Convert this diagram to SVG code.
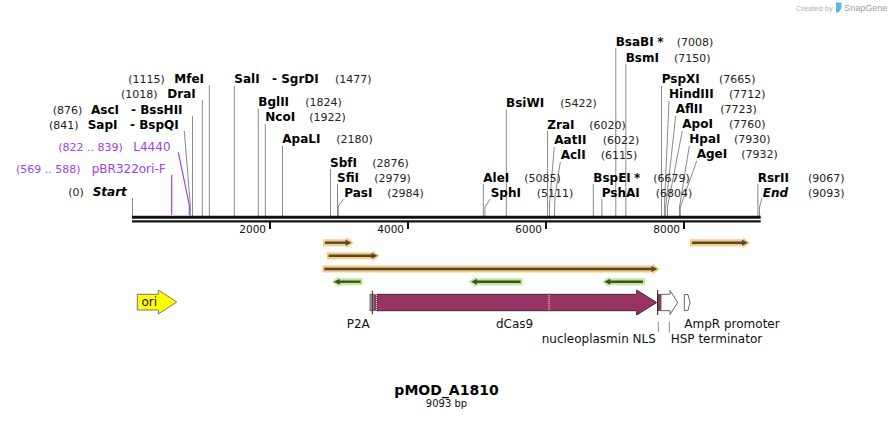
<svg xmlns="http://www.w3.org/2000/svg" width="893" height="421" viewBox="0 0 893 421">
<style>
text{font-family:"DejaVu Sans","Noto Sans",sans-serif}
.n{font-size:12px;font-weight:bold;fill:#000}
.i{font-style:italic}
.c{font-size:11px;fill:#222}
.p{font-size:12px;fill:#a040f0}
.pc{font-size:11px;fill:#a040f0}
.f{font-size:12px;fill:#111}
.t{font-size:10.5px;fill:#111}
.ln{stroke:#8a8a8a;stroke-width:1;fill:none}
.lp{stroke:#a040f0;stroke-width:1.2;fill:none}
.og{fill:#fbc97a}
.gg{fill:#b8f08c}
.pi{stroke:#4a4a3c;stroke-width:2.4}
.ph{fill:#4a4a3c}
</style>
<rect width="893" height="421" fill="#fff"/>
<g id="watermark">
<text x="796" y="10.5" style="font-family:'Liberation Sans',sans-serif;font-size:7.5px;fill:#b4b4b4">Created by</text>
<path d="M836,2.5 h5.5 v4 c0,3 -2,4.5 -3,6 h-2.5 z" fill="#5ab4e6"/>
<text x="844.3" y="10.5" style="font-family:'Liberation Sans',sans-serif;font-size:9px;fill:#a0a0a0">SnapGene</text>
</g>
<g id="connectors">
<line class="ln" x1="132.5" y1="198" x2="132.5" y2="216"/>
<line class="lp" x1="171.7" y1="175" x2="171.7" y2="215"/>
<polyline class="lp" points="178.3,152.3 189.3,205 189.3,215"/>
<polyline class="ln" points="184.3,131 190.3,205 190.3,216"/>
<line class="ln" x1="192.5" y1="116" x2="192.5" y2="216"/>
<line class="ln" x1="202.3" y1="100" x2="202.3" y2="216"/>
<line class="ln" x1="209.3" y1="85" x2="209.3" y2="216"/>
<line class="ln" x1="234.3" y1="86" x2="234.3" y2="216"/>
<line class="ln" x1="258.3" y1="109" x2="258.3" y2="216"/>
<line class="ln" x1="265.3" y1="124" x2="265.3" y2="216"/>
<line class="ln" x1="282.5" y1="146" x2="282.5" y2="216"/>
<line class="ln" x1="330.5" y1="169" x2="330.5" y2="216"/>
<line class="ln" x1="337.5" y1="184" x2="337.5" y2="216"/>
<polyline class="ln" points="343.5,199 338.3,206 338.3,216"/>
<line class="ln" x1="483.3" y1="184" x2="483.3" y2="216"/>
<polyline class="ln" points="490,199 485,207 485,216"/>
<line class="ln" x1="506.3" y1="110" x2="506.3" y2="216"/>
<line class="ln" x1="547.5" y1="131" x2="547.5" y2="216"/>
<polyline class="ln" points="554.3,147 549.5,204 549.5,216"/>
<polyline class="ln" points="560.3,162 555,196 554.5,216"/>
<line class="ln" x1="593.3" y1="184" x2="593.3" y2="216"/>
<line class="ln" x1="601.9" y1="199" x2="601.9" y2="216"/>
<line class="ln" x1="615.8" y1="48" x2="615.8" y2="216"/>
<line class="ln" x1="625.8" y1="64" x2="625.8" y2="216"/>
<line class="ln" x1="661.5" y1="86" x2="661.5" y2="216"/>
<polyline class="ln" points="669,101 664.4,207 664.4,216"/>
<polyline class="ln" points="675.7,116 665.7,207 665.7,216"/>
<polyline class="ln" points="682.3,131 667.5,207 667.5,216"/>
<polyline class="ln" points="689.3,146 679.5,207 679.5,216"/>
<polyline class="ln" points="696.7,161 680.3,207 680.3,216"/>
<line class="ln" x1="757.9" y1="184" x2="757.9" y2="216"/>
<polyline class="ln" points="762,198 759.5,207 759.5,216"/>
<line class="ln" x1="658.3" y1="321.7" x2="658.3" y2="332.3"/>
<line class="ln" x1="669.3" y1="321.7" x2="669.3" y2="332.3"/>
</g>
<g id="backbone">
<line x1="132" y1="217.2" x2="760.7" y2="217.2" stroke="#111" stroke-width="3"/>
<line x1="132" y1="221.4" x2="760.7" y2="221.4" stroke="#111" stroke-width="2.2"/>
<g stroke="#111" stroke-width="2">
<line x1="270" y1="222" x2="270" y2="229"/>
<line x1="408" y1="222" x2="408" y2="229"/>
<line x1="546" y1="222" x2="546" y2="229"/>
<line x1="684" y1="222" x2="684" y2="229"/>
</g>
<g class="t" text-anchor="end">
<text x="266" y="233.3">2000</text>
<text x="404" y="233.3">4000</text>
<text x="542" y="233.3">6000</text>
<text x="680" y="233.3">8000</text>
</g>
</g>
<g id="site-start"><text class="c" x="68.3" y="195.7">(0)</text><text class="n i" x="92.7" y="195.7">Start</text></g>
<g id="primer-pBR322ori-F-label"><text class="pc" x="16" y="172.7">(569 .. 588)</text><text class="p" x="91.7" y="172.7">pBR322ori-F</text></g>
<g id="primer-L4440-label"><text class="pc" x="58.3" y="151">(822 .. 839)</text><text class="p" x="133.3" y="151">L4440</text></g>
<g id="site-SapI"><text class="c" x="49" y="128.7">(841)</text><text class="n" x="87.7" y="128.7">SapI</text><text class="n" x="130" y="128.7">- BspQI</text></g>
<g id="site-AscI"><text class="c" x="52.7" y="113.7">(876)</text><text class="n" x="91" y="113.7">AscI</text><text class="n" x="131" y="113.7">- BssHII</text></g>
<g id="site-DraI"><text class="c" x="121" y="98.3">(1018)</text><text class="n" x="167.3" y="98.3">DraI</text></g>
<g id="site-MfeI"><text class="c" x="128.3" y="83.3">(1115)</text><text class="n" x="174.3" y="83.3">MfeI</text></g>
<g id="site-SalI"><text class="n" x="234.3" y="83.3">SalI</text><text class="n" x="272" y="83.3">- SgrDI</text><text class="c" x="335" y="83.3">(1477)</text></g>
<g id="site-BglII"><text class="n" x="258.3" y="106">BglII</text><text class="c" x="305.3" y="106">(1824)</text></g>
<g id="site-NcoI"><text class="n" x="265.3" y="121">NcoI</text><text class="c" x="309.3" y="121">(1922)</text></g>
<g id="site-ApaLI"><text class="n" x="282.3" y="143.3">ApaLI</text><text class="c" x="336.3" y="143.3">(2180)</text></g>
<g id="site-SbfI"><text class="n" x="330" y="166.7">SbfI</text><text class="c" x="372.3" y="166.7">(2876)</text></g>
<g id="site-SfiI"><text class="n" x="337" y="181.7">SfiI</text><text class="c" x="374.3" y="181.7">(2979)</text></g>
<g id="site-PasI"><text class="n" x="344.3" y="196.7">PasI</text><text class="c" x="387.3" y="196.7">(2984)</text></g>
<g id="site-AleI"><text class="n" x="483.3" y="181.7">AleI</text><text class="c" x="524.3" y="181.7">(5085)</text></g>
<g id="site-SphI"><text class="n" x="490.7" y="196.7">SphI</text><text class="c" x="536.7" y="196.7">(5111)</text></g>
<g id="site-BsiWI"><text class="n" x="506" y="106.7">BsiWI</text><text class="c" x="560.3" y="106.7">(5422)</text></g>
<g id="site-ZraI"><text class="n" x="547.3" y="129">ZraI</text><text class="c" x="589.3" y="129">(6020)</text></g>
<g id="site-AatII"><text class="n" x="554.3" y="144">AatII</text><text class="c" x="602.7" y="144">(6022)</text></g>
<g id="site-AclI"><text class="n" x="560.7" y="159">AclI</text><text class="c" x="600.7" y="159">(6115)</text></g>
<g id="site-BspEI"><text class="n" x="593.3" y="181.7">BspEI</text><text class="n" x="634" y="181.7">*</text><text class="c" x="653.3" y="181.7">(6679)</text></g>
<g id="site-PshAI"><text class="n" x="601.7" y="196.7">PshAI</text><text class="c" x="655.7" y="196.7">(6804)</text></g>
<g id="site-BsaBI"><text class="n" x="615.7" y="45.7">BsaBI</text><text class="n" x="657.3" y="45.7">*</text><text class="c" x="676.7" y="45.7">(7008)</text></g>
<g id="site-BsmI"><text class="n" x="625.7" y="61.7">BsmI</text><text class="c" x="674" y="61.7">(7150)</text></g>
<g id="site-PspXI"><text class="n" x="661.7" y="83.3">PspXI</text><text class="c" x="719" y="83.3">(7665)</text></g>
<g id="site-HindIII"><text class="n" x="669" y="98.3">HindIII</text><text class="c" x="729" y="98.3">(7712)</text></g>
<g id="site-AflII"><text class="n" x="675.7" y="113.3">AflII</text><text class="c" x="720.3" y="113.3">(7723)</text></g>
<g id="site-ApoI"><text class="n" x="682.3" y="128.3">ApoI</text><text class="c" x="729" y="128.3">(7760)</text></g>
<g id="site-HpaI"><text class="n" x="689.3" y="143.3">HpaI</text><text class="c" x="734" y="143.3">(7930)</text></g>
<g id="site-AgeI"><text class="n" x="696.7" y="158.3">AgeI</text><text class="c" x="741.3" y="158.3">(7932)</text></g>
<g id="site-RsrII"><text class="n" x="757.7" y="181.7">RsrII</text><text class="c" x="808" y="181.7">(9067)</text></g>
<g id="site-end"><text class="n i" x="762.7" y="196.7">End</text><text class="c" x="808" y="196.7">(9093)</text></g>
<g id="primer-1">
<polygon class="og" points="323,239.2 346.5,239.2 346.5,237.2 353.5,242.7 346.5,248.2 346.5,246.2 323,246.2"/>
<line class="pi" x1="325" y1="242.7" x2="347.5" y2="242.7"/><polygon class="ph" points="345.5,239.7 351.5,242.7 345.5,245.7"/>
</g>
<g id="primer-2">
<polygon class="og" points="326.7,252.2 372.5,252.2 372.5,250.2 379.5,255.7 372.5,261.2 372.5,259.2 326.7,259.2"/>
<line class="pi" x1="328.7" y1="255.7" x2="373.5" y2="255.7"/><polygon class="ph" points="371.5,252.7 377.5,255.7 371.5,258.7"/>
</g>
<g id="primer-3">
<polygon class="og" points="322.3,265.5 652.5,265.5 652.5,263.5 659.5,269 652.5,274.5 652.5,272.5 322.3,272.5"/>
<line class="pi" x1="324.3" y1="269" x2="653.5" y2="269"/><polygon class="ph" points="651.5,266 657.5,269 651.5,272"/>
</g>
<g id="primer-4">
<polygon class="og" points="690,239.2 743,239.2 743,237.2 750,242.7 743,248.2 743,246.2 690,246.2"/>
<line class="pi" x1="692" y1="242.7" x2="744" y2="242.7"/><polygon class="ph" points="742,239.7 748,242.7 742,245.7"/>
</g>
<g id="primer-5">
<polygon class="gg" points="362.7,278.2 338.7,278.2 338.7,276.2 331.7,281.7 338.7,287.2 338.7,285.2 362.7,285.2"/>
<line class="pi" x1="337.7" y1="281.7" x2="360.7" y2="281.7"/><polygon class="ph" points="339.7,278.7 333.7,281.7 339.7,284.7"/>
</g>
<g id="primer-6">
<polygon class="gg" points="522.7,278.2 476,278.2 476,276.2 469,281.7 476,287.2 476,285.2 522.7,285.2"/>
<line class="pi" x1="475" y1="281.7" x2="520.7" y2="281.7"/><polygon class="ph" points="477,278.7 471,281.7 477,284.7"/>
</g>
<g id="primer-7">
<polygon class="gg" points="645,278.2 609.3,278.2 609.3,276.2 602.3,281.7 609.3,287.2 609.3,285.2 645,285.2"/>
<line class="pi" x1="608.3" y1="281.7" x2="643" y2="281.7"/><polygon class="ph" points="610.3,278.7 604.3,281.7 610.3,284.7"/>
</g>
<g id="feature-ori">
<polygon points="137.3,294.3 158.3,294.3 158.3,290 176.7,302 158.3,314 158.3,310 137.3,310" fill="#ffff00" stroke="#777" stroke-width="1"/>
<text class="f" x="141.5" y="305.8">ori</text>
</g>
<g id="feature-P2A">
<rect x="370" y="294.3" width="4" height="16.4" fill="#a8a8a8" stroke="#555" stroke-width="0.8"/>
<line x1="372.3" y1="290.7" x2="372.3" y2="314.3" stroke="#222" stroke-width="1"/>
<text class="f" x="346.7" y="327.5">P2A</text>
</g>
<g id="feature-dCas9">
<rect x="374" y="294.3" width="3" height="16.4" fill="#993366"/>
<polygon points="376.7,294.3 636.7,294.3 636.7,290 656.7,302.5 636.7,315 636.7,310.7 376.7,310.7" fill="#993366" stroke="#333" stroke-width="1"/>
<line x1="376.5" y1="294.8" x2="376.5" y2="310.2" stroke="#fff" stroke-width="1" stroke-dasharray="1,1"/>
<line x1="549" y1="294.8" x2="549" y2="310.2" stroke="#fff" stroke-width="1" stroke-dasharray="1,1"/>
<text class="f" x="496" y="327.5">dCas9</text>
</g>
<g id="feature-NLS">
<rect x="657.5" y="294.3" width="3.2" height="16.4" fill="#993366" stroke="#333" stroke-width="0.6"/>
<line x1="657.7" y1="290" x2="657.7" y2="315" stroke="#222" stroke-width="1"/>
<text class="f" x="541.7" y="343.3">nucleoplasmin NLS</text>
</g>
<g id="feature-HSP-terminator">
<polygon points="661,294.3 670,294.3 670,290.5 677.7,302.5 670,314.5 670,310.7 661,310.7" fill="#fff" stroke="#666" stroke-width="1"/>
<text class="f" x="670.7" y="343.3">HSP terminator</text>
</g>
<g id="feature-AmpR-promoter">
<polygon points="684.3,294.5 688,294.5 690,302.5 688,310.5 684.3,310.5" fill="#fff" stroke="#666" stroke-width="1"/>
<text class="f" x="684.3" y="327.5">AmpR promoter</text>
</g>
<g id="title">
<text x="446.5" y="394.5" text-anchor="middle" style="font-size:14px;font-weight:bold;fill:#000">pMOD_A1810</text>
<text x="446.5" y="407" text-anchor="middle" style="font-size:10px;fill:#111">9093 bp</text>
</g>
</svg>
